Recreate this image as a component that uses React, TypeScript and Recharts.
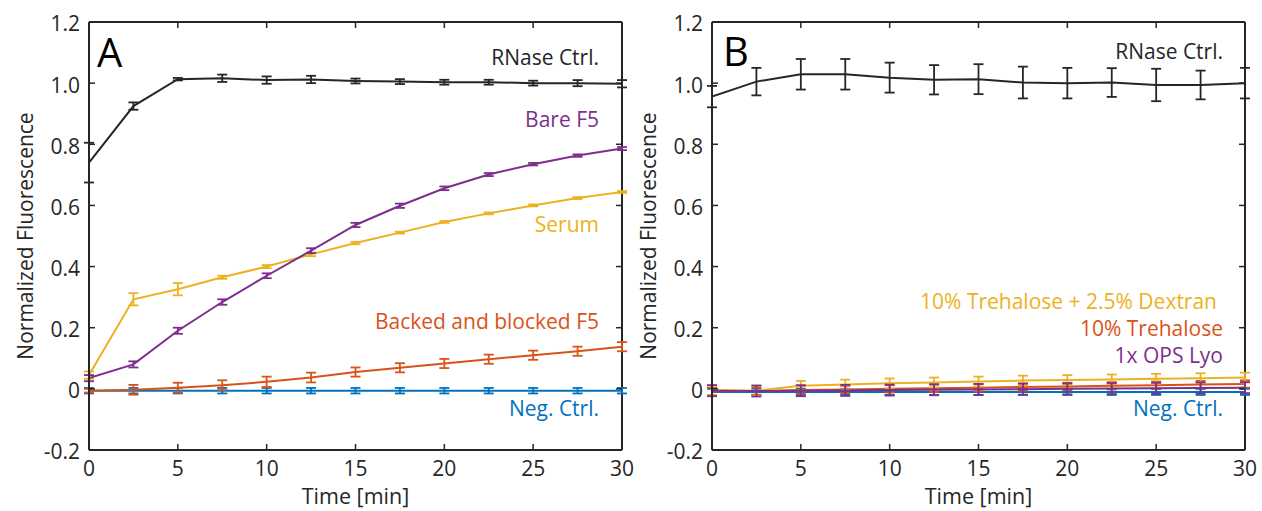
import React from 'react';
import { LineChart, Line, XAxis, YAxis, ErrorBar, ReferenceLine } from 'recharts';

const times = [0, 2.5, 5, 7.5, 10, 12.5, 15, 17.5, 20, 22.5, 25, 27.5, 30];
const xTicks = [0, 5, 10, 15, 20, 25, 30];
const xTickLabels = ['0', '5', '10', '15', '20', '25', '30'];
const yTicks = [-0.2, 0, 0.2, 0.4, 0.6, 0.8, 1.0, 1.2];
const yTickLabels = ['-0.2', '0', '0.2', '0.4', '0.6', '0.8', '1.0', '1.2'];

// Panel A
const aRnase = [0.74, 0.925, 1.013, 1.016, 1.01, 1.012, 1.007, 1.005, 1.003, 1.003, 1.0, 1.0, 0.998];
const aRnaseErr = [0.065, 0.012, 0.004, 0.012, 0.012, 0.012, 0.008, 0.008, 0.008, 0.008, 0.008, 0.01, 0.012];
const aBare = [0.035, 0.08, 0.19, 0.284, 0.37, 0.452, 0.536, 0.599, 0.656, 0.701, 0.735, 0.763, 0.786];
const aBareErr = [0.01, 0.01, 0.01, 0.009, 0.008, 0.008, 0.007, 0.007, 0.006, 0.005, 0.004, 0.004, 0.005];
const aSerum = [0.045, 0.293, 0.326, 0.365, 0.4, 0.44, 0.477, 0.511, 0.546, 0.574, 0.6, 0.624, 0.644];
const aSerumErr = [0.012, 0.02, 0.02, 0.005, 0.005, 0.006, 0.004, 0.003, 0.003, 0.003, 0.003, 0.003, 0.003];
const aBacked = [-0.006, -0.003, 0.004, 0.012, 0.023, 0.037, 0.055, 0.069, 0.083, 0.097, 0.11, 0.123, 0.138];
const aBackedErr = [0.006, 0.016, 0.016, 0.016, 0.017, 0.016, 0.015, 0.015, 0.015, 0.015, 0.015, 0.015, 0.015];
const aNeg = [-0.006, -0.006, -0.006, -0.006, -0.006, -0.006, -0.006, -0.006, -0.006, -0.006, -0.006, -0.006, -0.006];
const aNegErr = [0.009, 0.009, 0.009, 0.009, 0.009, 0.009, 0.009, 0.009, 0.009, 0.009, 0.009, 0.009, 0.009];

// Panel B
const bRnase = [0.956, 1.005, 1.029, 1.029, 1.018, 1.011, 1.013, 1.002, 1.0, 1.002, 0.994, 0.994, 1.0];
const bRnaseErr = [0.035, 0.045, 0.05, 0.05, 0.049, 0.048, 0.049, 0.052, 0.05, 0.047, 0.053, 0.047, 0.05];
const bDextran = [-0.004, -0.006, 0.01, 0.014, 0.018, 0.021, 0.024, 0.027, 0.029, 0.031, 0.033, 0.035, 0.037];
const bDextranErr = [0.016, 0.016, 0.016, 0.016, 0.016, 0.016, 0.016, 0.016, 0.016, 0.016, 0.016, 0.016, 0.016];
const bTrehalose = [-0.008, -0.007, -0.004, -0.002, 0.0, 0.002, 0.004, 0.006, 0.008, 0.01, 0.012, 0.014, 0.016];
const bTrehaloseErr = [0.012, 0.012, 0.012, 0.012, 0.012, 0.012, 0.012, 0.012, 0.012, 0.012, 0.012, 0.012, 0.012];
const bOps = [-0.006, -0.007, -0.006, -0.005, -0.004, -0.003, -0.002, -0.001, 0.0, 0.001, 0.002, 0.003, 0.004];
const bOpsErr = [0.018, 0.018, 0.018, 0.018, 0.018, 0.018, 0.018, 0.018, 0.018, 0.018, 0.018, 0.018, 0.018];
const bNeg = [-0.01, -0.01, -0.01, -0.01, -0.01, -0.01, -0.01, -0.01, -0.01, -0.01, -0.01, -0.01, -0.01];
const bNegErr = [0.01, 0.01, 0.01, 0.01, 0.01, 0.01, 0.01, 0.01, 0.01, 0.01, 0.01, 0.01, 0.01];

const BLUE = '#0072BD';
const ORANGE = '#D95319';
const YELLOW = '#EDB120';
const PURPLE = '#7E2F8E';
const DARK = '#262626';

type Series = { key: string; color: string; values: number[]; errors: number[] };

const seriesA: Series[] = [
  { key: 'neg', color: BLUE, values: aNeg, errors: aNegErr },
  { key: 'backed', color: ORANGE, values: aBacked, errors: aBackedErr },
  { key: 'serum', color: YELLOW, values: aSerum, errors: aSerumErr },
  { key: 'bare', color: PURPLE, values: aBare, errors: aBareErr },
  { key: 'rnase', color: DARK, values: aRnase, errors: aRnaseErr },
];

const seriesB: Series[] = [
  { key: 'neg', color: BLUE, values: bNeg, errors: bNegErr },
  { key: 'tre', color: ORANGE, values: bTrehalose, errors: bTrehaloseErr },
  { key: 'dex', color: YELLOW, values: bDextran, errors: bDextranErr },
  { key: 'ops', color: PURPLE, values: bOps, errors: bOpsErr },
  { key: 'rnase', color: DARK, values: bRnase, errors: bRnaseErr },
];

const buildRows = (series: Series[]) =>
  times.map((t, i) => {
    const row: Record<string, number> = { t };
    series.forEach((s) => {
      row[s.key] = s.values[i];
      row[s.key + 'Err'] = s.errors[i];
    });
    return row;
  });

const FONT = '"Open Sans", "Noto Sans", sans-serif';
const CW = 640;
const CH = 511;
const PL = 89;
const PR = 622;
const PT = 22;
const PB = 450;
const TICK = 6;
const FS = 21;

const YTick = (props: any) => {
  const { x, y, payload } = props;
  const idx = yTicks.indexOf(payload.value);
  return (
    <g>
      <text x={x} y={y} dy="0.45em" textAnchor="end" fontSize={FS} fontFamily={FONT} fill={DARK}>
        {yTickLabels[idx]}
      </text>
      <line x1={PL} x2={PL + TICK} y1={y} y2={y} stroke={DARK} strokeWidth={1.5} />
      <line x1={PR - TICK} x2={PR} y1={y} y2={y} stroke={DARK} strokeWidth={1.5} />
    </g>
  );
};

const XTick = (props: any) => {
  const { x, y, payload } = props;
  const idx = xTicks.indexOf(payload.value);
  return (
    <g>
      <text x={x} y={y} dy="0.72em" textAnchor="middle" fontSize={FS} fontFamily={FONT} fill={DARK}>
        {xTickLabels[idx]}
      </text>
      <line x1={x} x2={x} y1={PB - TICK} y2={PB} stroke={DARK} strokeWidth={1.5} />
      <line x1={x} x2={x} y1={PT} y2={PT + TICK} stroke={DARK} strokeWidth={1.5} />
    </g>
  );
};

const Panel = ({ series }: { series: Series[] }) => {
  const rows = buildRows(series);
  return (
    <LineChart
      width={CW}
      height={CH}
      data={rows}
      margin={{ top: PT, right: CW - PR, bottom: CH - PB - 30, left: PL - 60 }}
    >
      <XAxis
        type="number"
        dataKey="t"
        domain={[0, 30]}
        ticks={xTicks}
        interval={0}
        tick={(p: any) => <XTick {...p} />}
        tickLine={false}
        tickSize={0}
        tickMargin={11}
        height={30}
        axisLine={{ stroke: DARK, strokeWidth: 2 }}
        allowDataOverflow
      />
      <YAxis
        type="number"
        domain={[-0.2, 1.2]}
        ticks={yTicks}
        interval={0}
        tick={(p: any) => <YTick {...p} />}
        tickLine={false}
        tickSize={0}
        tickMargin={9}
        width={60}
        axisLine={{ stroke: DARK, strokeWidth: 2 }}
        allowDataOverflow
      />
      <ReferenceLine y={1.2} stroke={DARK} strokeWidth={2} />
      <ReferenceLine x={30} stroke={DARK} strokeWidth={2} />
      {series.map((s) => (
        <Line
          key={s.key}
          type="linear"
          dataKey={s.key}
          stroke={s.color}
          strokeWidth={2}
          dot={false}
          isAnimationActive={false}
        >
          <ErrorBar
            dataKey={s.key + 'Err'}
            direction="y"
            width={5}
            stroke={s.color}
            strokeWidth={1.8}
            isAnimationActive={false}
          />
        </Line>
      ))}
    </LineChart>
  );
};

type Note = { text: string; x: number; y: number; color: string; size?: number; anchor?: string };

const notes: Note[] = [
  { text: 'A', x: 97, y: 67, color: '#000', size: 40, anchor: 'start' },
  { text: 'RNase Ctrl.', x: 599, y: 65, color: DARK },
  { text: 'Bare F5', x: 599, y: 127, color: PURPLE },
  { text: 'Serum', x: 599, y: 232, color: YELLOW },
  { text: 'Backed and blocked F5', x: 599, y: 329, color: ORANGE },
  { text: 'Neg. Ctrl.', x: 599, y: 416, color: BLUE },
  { text: 'B', x: 723, y: 66, color: '#000', size: 40, anchor: 'start' },
  { text: 'RNase Ctrl.', x: 1223, y: 59, color: DARK },
  { text: '10% Trehalose + 2.5% Dextran', x: 1217, y: 309, color: YELLOW },
  { text: '10% Trehalose', x: 1223, y: 336, color: ORANGE },
  { text: '1x OPS Lyo', x: 1223, y: 363, color: PURPLE },
  { text: 'Neg. Ctrl.', x: 1223, y: 416, color: BLUE },
  { text: 'Time [min]', x: 355.5, y: 504, color: DARK, size: 21.5, anchor: 'middle' },
  { text: 'Time [min]', x: 978.5, y: 504, color: DARK, size: 21.5, anchor: 'middle' },
];

const yLabels = [
  { x: 33, y: 236 },
  { x: 656, y: 236 },
];

export default function App() {
  return (
    <div style={{ position: 'absolute', left: 0, top: 0, width: 1262, height: 511, background: '#fff', overflow: 'hidden' }}>
      <div style={{ position: 'absolute', left: 0, top: 0 }}>
        <Panel series={seriesA} />
      </div>
      <div style={{ position: 'absolute', left: 623, top: 0 }}>
        <Panel series={seriesB} />
      </div>
      <svg
        width={1262}
        height={511}
        style={{ position: 'absolute', left: 0, top: 0, pointerEvents: 'none' }}
      >
        {notes.map((n, i) => (
          <text
            key={i}
            x={n.x}
            y={n.y}
            textAnchor={(n.anchor || 'end') as any}
            fontSize={n.size || FS}
            fontFamily={FONT}
            fill={n.color}
          >
            {n.text}
          </text>
        ))}
        {yLabels.map((l, i) => (
          <text
            key={'yl' + i}
            x={l.x}
            y={l.y}
            transform={`rotate(-90, ${l.x}, ${l.y})`}
            textAnchor="middle"
            fontSize={FS}
            fontFamily={FONT}
            fill={DARK}
          >
            Normalized Fluorescence
          </text>
        ))}
      </svg>
    </div>
  );
}
